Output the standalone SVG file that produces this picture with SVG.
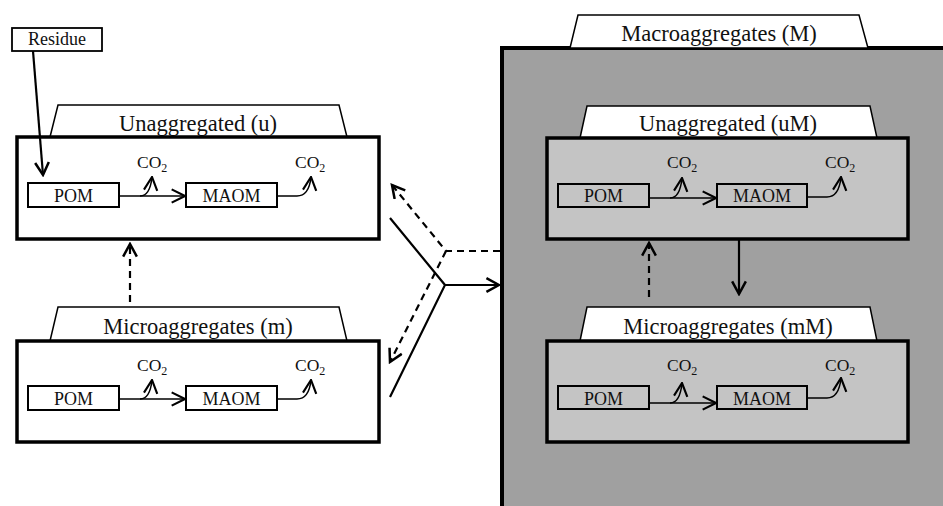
<svg xmlns="http://www.w3.org/2000/svg" width="943" height="506" viewBox="0 0 943 506">
<style>
text{font-family:"Liberation Serif","Times New Roman",serif;fill:#111}
.hdr{font-size:22.5px;text-anchor:middle}
.lbl{font-size:18px;text-anchor:middle}
.co{font-size:17.5px}
.sub{font-size:12px}
.box{stroke:#000;stroke-width:3.5}
.tab{fill:#fff;stroke:#000;stroke-width:1.5}
.pool{stroke:#000;stroke-width:2}
.flow{fill:none;stroke:#000;stroke-width:1.5}
.con{fill:none;stroke:#000;stroke-width:2.2}
.dash{stroke-dasharray:7 5}
</style>
<defs>
<marker id="ah" markerUnits="userSpaceOnUse" markerWidth="16" markerHeight="16" refX="11" refY="6" orient="auto" viewBox="0 0 12 12">
<path d="M1,1 L11,6 L1,11" fill="none" stroke="#000" stroke-width="1.6"/>
</marker>
<marker id="ahb" markerUnits="userSpaceOnUse" markerWidth="16" markerHeight="16" refX="12" refY="7" orient="auto" viewBox="0 0 14 14">
<path d="M1,1 L12,7 L1,13" fill="none" stroke="#000" stroke-width="2.2"/>
</marker>
</defs>
<rect x="0" y="0" width="943" height="506" fill="#fff"/>

<g id="residue">
<rect x="12" y="28" width="90" height="23" fill="#fff" stroke="#000" stroke-width="1.8"/>
<text x="57" y="45" style="font-size:18px" text-anchor="middle">Residue</text>
</g>

<g id="macroaggregates">
<rect x="502" y="48" width="470" height="480" fill="#a0a0a0" stroke="#000" stroke-width="4"/>
<path class="tab" d="M570,48 L578,15 L859,15 L868,48 Z"/>
<text class="hdr" x="719" y="41">Macroaggregates (M)</text>
</g>

<g id="unaggregated_u">
<path class="tab" d="M50,137 L58,105 L339,105 L347,137 Z"/>
<text class="hdr" x="198" y="131">Unaggregated (u)</text>
<rect class="box" x="17" y="137" width="362" height="102" fill="#fff"/>
<rect class="pool" x="28" y="183" width="91" height="24" fill="#fff"/>
<text class="lbl" x="73.5" y="202">POM</text>
<rect class="pool" x="186" y="183" width="91" height="24" fill="#fff"/>
<text class="lbl" x="231.5" y="202">MAOM</text>
<path class="flow" d="M119,196 H185" marker-end="url(#ah)"/>
<path class="flow" d="M140,196 Q150,196 152,177" marker-end="url(#ah)"/>
<path class="flow" d="M277,196 H297 Q309,196 311,177" marker-end="url(#ah)"/>
<text class="co" x="137" y="168">CO<tspan class="sub" dy="4">2</tspan></text>
<text class="co" x="295" y="168">CO<tspan class="sub" dy="4">2</tspan></text>
</g>

<g id="microaggregates_m">
<path class="tab" d="M50,341 L58,307 L339,307 L347,341 Z"/>
<text class="hdr" x="198" y="334">Microaggregates (m)</text>
<rect class="box" x="17" y="341" width="362" height="101" fill="#fff"/>
<rect class="pool" x="28" y="386" width="91" height="24" fill="#fff"/>
<text class="lbl" x="73.5" y="405">POM</text>
<rect class="pool" x="186" y="386" width="91" height="24" fill="#fff"/>
<text class="lbl" x="231.5" y="405">MAOM</text>
<path class="flow" d="M119,399 H185" marker-end="url(#ah)"/>
<path class="flow" d="M140,399 Q150,399 152,380" marker-end="url(#ah)"/>
<path class="flow" d="M277,399 H297 Q309,399 311,380" marker-end="url(#ah)"/>
<text class="co" x="137" y="371">CO<tspan class="sub" dy="4">2</tspan></text>
<text class="co" x="295" y="371">CO<tspan class="sub" dy="4">2</tspan></text>
</g>

<g id="unaggregated_uM">
<path class="tab" d="M580,138 L587,106 L870,106 L877,138 Z"/>
<text class="hdr" x="728" y="131">Unaggregated (uM)</text>
<rect class="box" x="547" y="138" width="361" height="101" fill="#c4c4c4"/>
<rect class="pool" x="558" y="184" width="91" height="23" fill="#c4c4c4"/>
<text class="lbl" x="603.5" y="202">POM</text>
<rect class="pool" x="717" y="184" width="90" height="23" fill="#c4c4c4"/>
<text class="lbl" x="762" y="202">MAOM</text>
<path class="flow" d="M649,198 H716" marker-end="url(#ah)"/>
<path class="flow" d="M670,198 Q680,198 682,178" marker-end="url(#ah)"/>
<path class="flow" d="M807,197 H827 Q839,197 841,177" marker-end="url(#ah)"/>
<text class="co" x="667" y="168">CO<tspan class="sub" dy="4">2</tspan></text>
<text class="co" x="825" y="168">CO<tspan class="sub" dy="4">2</tspan></text>
</g>

<g id="microaggregates_mM">
<path class="tab" d="M580,341 L587,307 L870,307 L877,341 Z"/>
<text class="hdr" x="728" y="334">Microaggregates (mM)</text>
<rect class="box" x="547" y="341" width="361" height="101" fill="#c4c4c4"/>
<rect class="pool" x="558" y="386" width="91" height="23" fill="#c4c4c4"/>
<text class="lbl" x="603.5" y="405">POM</text>
<rect class="pool" x="717" y="386" width="90" height="23" fill="#c4c4c4"/>
<text class="lbl" x="762" y="405">MAOM</text>
<path class="flow" d="M649,403 H716" marker-end="url(#ah)"/>
<path class="flow" d="M670,403 Q680,403 682,383" marker-end="url(#ah)"/>
<path class="flow" d="M807,398 H827 Q839,398 841,378" marker-end="url(#ah)"/>
<text class="co" x="667" y="371">CO<tspan class="sub" dy="4">2</tspan></text>
<text class="co" x="825" y="371">CO<tspan class="sub" dy="4">2</tspan></text>
</g>

<g id="connectors">
<path class="con" d="M33,51 L43,175" marker-end="url(#ahb)" stroke-width="2.5"/>
<path class="con dash" d="M130,302 V244" marker-end="url(#ahb)"/>
<path class="con dash" d="M649,297 V243" marker-end="url(#ahb)"/>
<path class="con" d="M739,239 V294" marker-end="url(#ahb)"/>
<path class="con dash" d="M500,251 H446 L392,185" marker-end="url(#ahb)"/>
<path class="con dash" d="M446,251 L390,362" marker-end="url(#ahb)"/>
<path class="con" d="M390,218 L445,285 L390,397"/>
<path class="con" d="M445,285 H499" marker-end="url(#ahb)"/>
</g>
</svg>
